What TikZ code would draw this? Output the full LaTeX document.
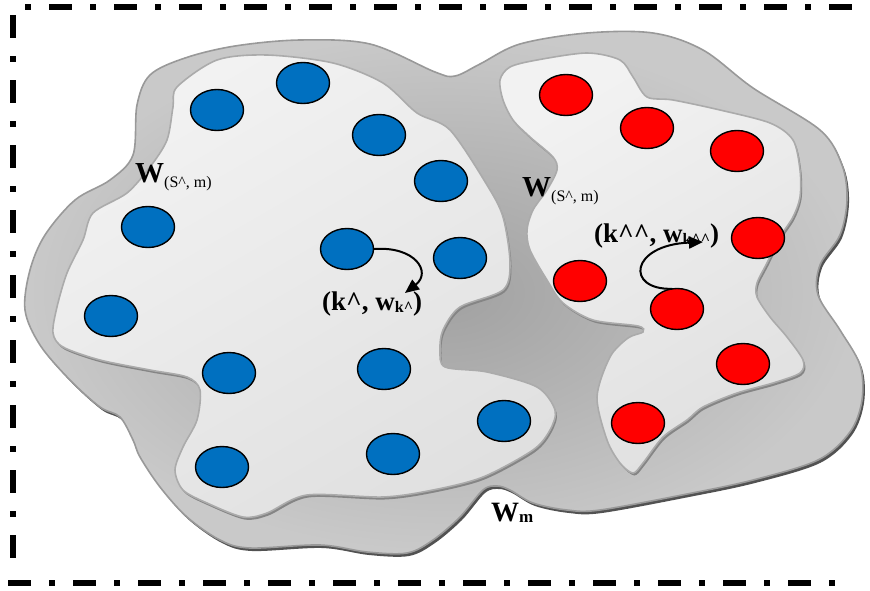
\documentclass[tikz,border=0pt]{standalone}
\usepackage{fontspec}
\setmainfont{Liberation Serif}
\usetikzlibrary{arrows.meta,shapes.geometric}
\definecolor{dotblue}{RGB}{0,112,192}
\definecolor{dotred}{RGB}{255,0,0}
\newcommand{\crt}{\textasciicircum}
\newcommand{\lowsub}[2]{\raisebox{-#1}{#2}}

\begin{document}
\begin{tikzpicture}[
      x=1pt, y=-1pt,
      dot/.style={ellipse, draw=black, line width=1.4pt, minimum width=53pt, minimum height=41pt, inner sep=0pt},
      bdot/.style={dot, fill=dotblue},
      rdot/.style={dot, fill=dotred},
      lbl/.style={anchor=base west, inner sep=0pt},
      flow/.style={-{Triangle[length=14pt,width=12pt]}, line width=2pt},
      frame/.style={line width=5.5pt, dash pattern=on 23pt off 18pt on 6pt off 18pt}
    ]
    \useasboundingbox (0,0) rectangle (870,590);

    % ---- outline of the whole region W_m and the two inner parts ----
    \def\outerblob{plot[smooth cycle, tension=0.55] coordinates {
      (25,310) (30,270) (45,235) (75,200) (110,180) (133,155) (137,105) (150,75)
      (185,58) (235,46) (300,40) (370,44) (435,72) (455,76) (480,64) (520,44)
      (587,33) (653,33) (703,50) (753,88) (820,130) (842,165) (847,200) (840,235)
      (820,265) (818,295) (840,330) (860,365) (862,400) (850,432) (818,460) (753,480)
      (687,494) (600,510) (567,510) (533,503) (510,490) (497,486) (483,490) (460,517)
      (433,540) (407,553) (367,552) (320,545) (250,548) (220,540) (187,517) (160,487)
      (140,457) (133,440) (120,417) (100,407) (70,380) (40,345)}}
    \def\leftblob{plot[smooth cycle, tension=0.5] coordinates {
      (177,87) (217,60) (267,55) (333,63) (383,83) (417,113) (450,130) (487,185)
      (503,217) (510,263) (503,290) (460,307) (443,330) (440,350) (445,367) (487,372)
      (537,387) (555,410) (550,430) (533,450) (483,477) (433,490) (383,497) (307,495)
      (267,513) (243,517) (207,503) (183,490) (175,470) (183,447) (197,420) (200,390)
      (187,377) (150,370) (100,360) (63,347) (53,333) (57,307) (67,273) (83,240)
      (93,213) (127,193) (150,167) (167,140) (173,107)}}
    \def\rightblob{plot[smooth cycle, tension=0.5] coordinates {
      (500,80) (510,67) (537,60) (587,53) (620,60) (633,77) (647,97) (673,100)
      (720,110) (770,123) (793,140) (800,170) (800,197) (793,217) (780,237) (767,263)
      (757,283) (757,297) (770,317) (787,337) (803,360) (800,373) (773,383) (737,393)
      (703,407) (687,420) (663,437) (643,463) (633,473) (620,463) (607,440) (597,397)
      (610,357) (628,338) (643,332) (638,326) (593,320) (563,303) (547,280) (530,250)
      (527,230) (533,210) (547,190) (557,170) (553,157) (530,137) (513,120) (503,100)}}

    \fill[black!68, shift={(2,3)}] \outerblob;
    \path[draw=black!40, line width=1.6pt, inner color=black!37, outer color=black!21] \outerblob;
    \fill[black!48, shift={(1.5,2.5)}] \leftblob;
    \fill[black!48, shift={(1.5,2.5)}] \rightblob;
    \path[draw=black!33, line width=1.6pt, top color=black!5, bottom color=black!12, shading angle=30] \leftblob;
    \path[draw=black!33, line width=1.6pt, top color=black!5, bottom color=black!12, shading angle=30] \rightblob;

    % ---- blue items ----
    \node[bdot] (b1) at (217,110) {};
    \node[bdot] (b2) at (303,83) {};
    \node[bdot] (b3) at (379,135) {};
    \node[bdot] (b4) at (441,181) {};
    \node[bdot] (b5) at (148,227) {};
    \node[bdot] (b6) at (347,249) {};
    \node[bdot] (b7) at (460,258) {};
    \node[bdot] (b8) at (111,316) {};
    \node[bdot] (b9) at (229,373) {};
    \node[bdot] (b10) at (384,369) {};
    \node[bdot] (b11) at (222,467) {};
    \node[bdot] (b12) at (393,454) {};
    \node[bdot] (b13) at (504,421) {};

    % ---- red items ----
    \node[rdot] (r1) at (566,95) {};
    \node[rdot] (r2) at (647,128) {};
    \node[rdot] (r3) at (737,151) {};
    \node[rdot] (r4) at (758,238) {};
    \node[rdot] (r5) at (580,281) {};
    \node[rdot] (r6) at (677,309) {};
    \node[rdot] (r7) at (743,364) {};
    \node[rdot] (r8) at (638,423) {};

    % ---- labels ----
    \node[lbl] (wl) at (135,182)
      {\fontsize{29}{29}\selectfont\bfseries W\lowsub{5pt}{\fontsize{16}{16}\selectfont\mdseries(S\crt, m)}};
    \node[lbl] (wr) at (522,196)
      {\fontsize{29}{29}\selectfont\bfseries W\lowsub{5pt}{\fontsize{16}{16}\selectfont\mdseries(S\crt, m)}};
    \node[lbl] (kl) at (322,310)
      {\fontsize{27}{27}\selectfont\bfseries (k\crt, w\lowsub{2pt}{\fontsize{16}{16}\selectfont k\crt})};
    \node[lbl] (kr) at (594,242)
      {\fontsize{27}{27}\selectfont\bfseries (k\crt\crt, w\lowsub{2pt}{\fontsize{16}{16}\selectfont k\crt\crt})};
    \node[lbl] (wm) at (491,521)
      {\fontsize{28}{28}\selectfont\bfseries W\lowsub{1pt}{\fontsize{17}{17}\selectfont m}};

    % ---- moves ----
    \coordinate (kltip) at (405,293);
    \coordinate (krtip) at (703,242);
    \draw[flow] (b6.east) .. controls (415,246) and (432,272) .. (kltip);
    \draw[flow] (r6.north) ++(-5,1) .. controls (625,290) and (630,245) .. (krtip);

    % ---- dash-dot frame ----
    \draw[frame, dash phase=41pt] (25,7) -- (870,7);
    \draw[frame] (13,15) -- (13,566);
    \draw[frame] (8,583) -- (852,583);
  \end{tikzpicture}
\end{document}
